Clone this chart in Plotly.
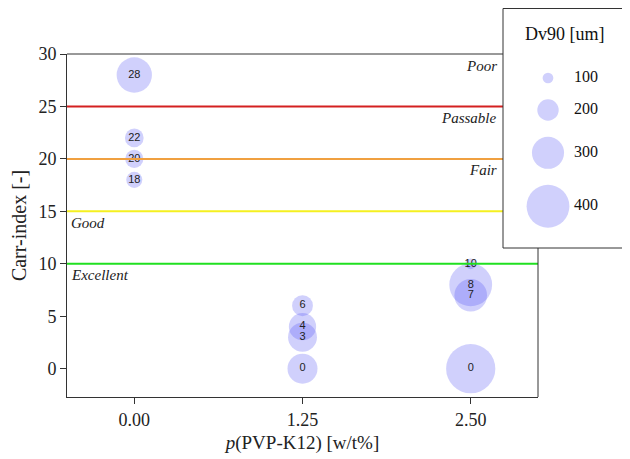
import plotly.graph_objects as go

# ---- data ----
x_vals = [0.0, 0.0, 0.0, 0.0, 1.25, 1.25, 1.25, 1.25, 2.5, 2.5, 2.5, 2.5]
carr_index = [28, 22, 20, 18, 6, 4, 3, 0, 10, 8, 7, 0]
dv90 = [330, 175, 170, 150, 195, 255, 270, 280, 100, 400, 305, 460]
x_ticks = [0.0, 1.25, 2.5]
x_ticklabels = ["0.00", "1.25", "2.50"]
y_ticks = [0, 5, 10, 15, 20, 25, 30]
legend_sizes = [100, 200, 300, 400]
thresholds = [25, 20, 15, 10]
threshold_colors = ["#d42020", "#f0a040", "#f5f020", "#20e020"]
class_names = ["Poor", "Passable", "Fair", "Good", "Excellent"]
class_tops = [30, 25, 20, 15, 10]

OFF = 8  # page body margin
W, H = 622, 451
SERIF = "Liberation Serif"
BUB = "rgba(80,80,245,0.38)"
K = 0.107  # px diameter per um


def px_x(p):
    return (p - OFF) / W


def px_y(p):
    return 1 - (p - OFF) / H


# main plot box in screen pixels
L, R, T, B = 67, 538, 54, 397
LEG_L, LEG_R, LEG_T, LEG_B = 503, 626, 8.5, 248

fig = go.Figure()

fig.add_trace(go.Scatter(
    x=x_vals, y=carr_index, mode="markers+text",
    text=[str(v) for v in carr_index], textposition="middle center",
    textfont=dict(family="Liberation Sans", size=11, color="#222"),
    marker=dict(size=[d * K for d in dv90], sizemode="diameter",
                color=BUB, line=dict(width=0)),
    showlegend=False, hoverinfo="skip", cliponaxis=False,
    xaxis="x", yaxis="y"))

# legend in its own axes (screen-pixel units)
leg_y = []
y = 78
prev = None
for s in legend_sizes:
    d = s * K
    if prev is not None:
        y += (prev + d) / 2 + 16
    leg_y.append(y)
    prev = d

fig.add_trace(go.Scatter(
    x=[548] * len(legend_sizes), y=leg_y, mode="markers",
    marker=dict(size=[s * K for s in legend_sizes], sizemode="diameter",
                color=BUB, line=dict(width=0)),
    showlegend=False, hoverinfo="skip", cliponaxis=False, xaxis="x2", yaxis="y2"))
fig.add_trace(go.Scatter(
    x=[574] * len(legend_sizes), y=leg_y, mode="text",
    text=[str(s) for s in legend_sizes], textposition="middle right",
    textfont=dict(family=SERIF, size=16, color="#111"),
    showlegend=False, hoverinfo="skip", cliponaxis=False, xaxis="x2", yaxis="y2"))

shapes = []
for t, c in zip(thresholds, threshold_colors):
    x1 = px_x(R) if t == 10 else px_x(LEG_L)
    shapes.append(dict(type="line", xref="paper", yref="y", x0=px_x(L), x1=x1,
                       y0=t, y1=t, line=dict(color=c, width=2), layer="above"))
shapes.append(dict(type="line", xref="paper", yref="paper", x0=px_x(L), x1=px_x(LEG_L),
                   y0=px_y(T), y1=px_y(T), line=dict(color="#333", width=1)))
shapes.append(dict(type="line", xref="paper", yref="paper", x0=px_x(R), x1=px_x(R),
                   y0=px_y(LEG_B), y1=px_y(B), line=dict(color="#333", width=1)))
shapes.append(dict(type="rect", xref="paper", yref="paper", x0=px_x(LEG_L), x1=px_x(LEG_R),
                   y0=px_y(LEG_B), y1=px_y(LEG_T), line=dict(color="#333", width=1),
                   fillcolor="rgba(0,0,0,0)"))

annotations = []
for name, top in zip(class_names, class_tops):
    right = top >= 20
    annotations.append(dict(
        text="<i>%s</i>" % name, xref="paper", yref="y",
        x=px_x(499) if right else px_x(69), y=top - 1.1,
        xanchor="right" if right else "left", yanchor="middle",
        showarrow=False, font=dict(family=SERIF, size=15, color="#222")))
annotations.append(dict(
    text="Dv90 [um]", xref="paper", yref="paper", x=px_x(565), y=px_y(34),
    xanchor="center", yanchor="middle", showarrow=False,
    font=dict(family=SERIF, size=18, color="#111")))

fig.update_layout(
    template="none",
    width=W, height=H, margin=dict(l=0, r=0, t=0, b=0, pad=0, autoexpand=False),
    paper_bgcolor="white", plot_bgcolor="rgba(0,0,0,0)",
    font=dict(family=SERIF, size=18, color="#222"),
    shapes=shapes, annotations=annotations, showlegend=False,
    xaxis=dict(domain=[px_x(L), px_x(R)], range=[-0.5, 3.0],
               tickvals=x_ticks, ticktext=x_ticklabels,
               tickfont=dict(family=SERIF, size=18),
               ticks="outside", ticklen=6, tickcolor="#333",
               showline=True, linecolor="#333", linewidth=1, automargin=False,
               showgrid=False, zeroline=False, anchor="y",
               title=dict(text="<i>p</i>(PVP-K12) [w/t%]", standoff=7,
                          font=dict(family=SERIF, size=19))),
    yaxis=dict(domain=[px_y(B), px_y(T)], range=[-2.7, 30],
               tickvals=y_ticks, tickfont=dict(family=SERIF, size=18),
               ticks="outside", ticklen=6, tickcolor="#333",
               showline=True, linecolor="#333", linewidth=1, automargin=False,
               showgrid=False, zeroline=False, anchor="x",
               title=dict(text="Carr-index [-]", standoff=6,
                          font=dict(family=SERIF, size=20))),
    xaxis2=dict(domain=[px_x(LEG_L), px_x(LEG_R)], range=[LEG_L, LEG_R],
                visible=False, anchor="y2", fixedrange=True, automargin=False),
    yaxis2=dict(domain=[px_y(LEG_B), px_y(LEG_T)], range=[LEG_B, LEG_T],
                visible=False, anchor="x2", fixedrange=True, automargin=False),
)

fig.write_html("out.html")
